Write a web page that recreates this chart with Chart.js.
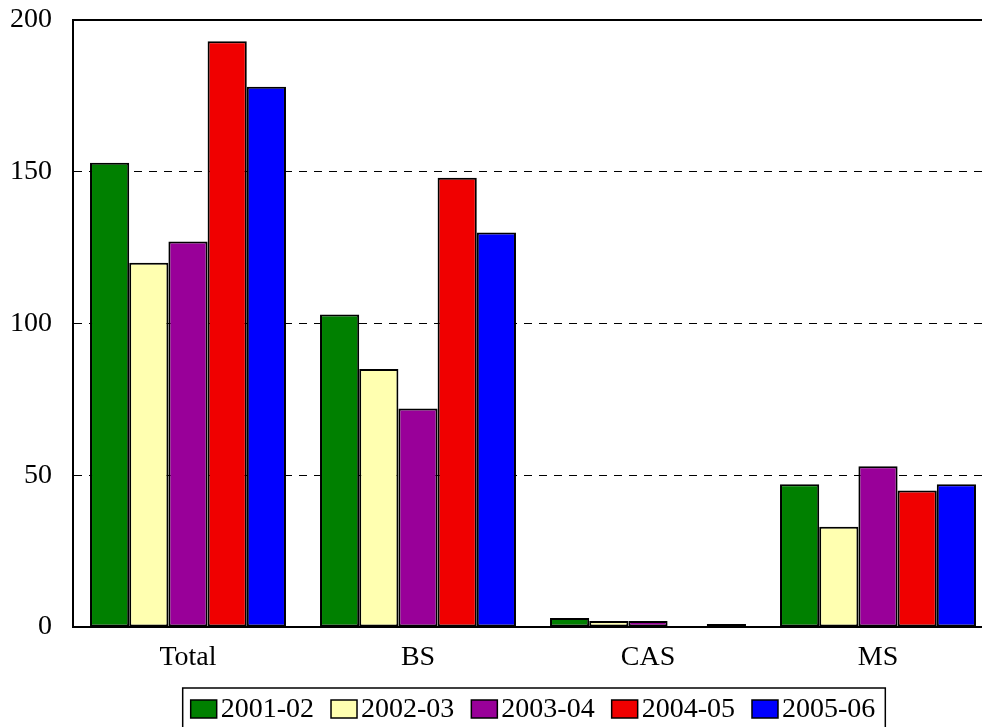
<!DOCTYPE html>
<html>
<head>
<meta charset="utf-8">
<script src="https://cdn.jsdelivr.net/npm/chart.js@4/dist/chart.umd.min.js"></script>
<style>
  html, body { margin: 0; padding: 0; background: #fff; overflow: hidden; }
  #wrap { width: 982px; height: 727px; overflow: hidden; position: relative; }
  canvas { display: block; }
</style>
</head>
<body>
<div id="wrap"><canvas id="c" width="1000" height="727"></canvas></div>
<script>
const categories = ['Total', 'BS', 'CAS', 'MS'];
const seriesNames = ['2001-02', '2002-03', '2003-04', '2004-05', '2005-06'];
const s2001 = [153, 103, 3, 47];
const s2002 = [120, 85, 2, 33];
const s2003 = [127, 72, 2, 53];
const s2004 = [193, 148, 0, 45];
const s2005 = [178, 130, 1, 47];
const seriesColors = ['#008000', '#FFFFB0', '#990099', '#F00000', '#0000FF'];
const yTicks = [0, 50, 100, 150, 200];

const seriesValues = [s2001, s2002, s2003, s2004, s2005];
const FONT_FAMILY = '"Liberation Serif", "Times New Roman", serif';
const FONT = { family: FONT_FAMILY, size: 28 };

// Custom boxed legend drawn below the x axis labels
const boxedLegend = {
  id: 'boxedLegend',
  afterDraw(chart) {
    const ctx = chart.ctx;
    const ds = chart.data.datasets;
    ctx.save();
    ctx.font = '28px ' + FONT_FAMILY;
    const sw = 26, sh = 18, gapText = 4, gapItem = 17;
    const widths = ds.map(d => sw + gapText + ctx.measureText(d.label).width);
    const total = widths.reduce((a, b) => a + b, 0) + gapItem * (ds.length - 1);
    const ca = chart.chartArea;
    let x = (ca.left + ca.right) / 2 - total / 2;
    const boxTop = 688;
    ctx.strokeStyle = '#000';
    ctx.lineWidth = 1.5;
    ctx.strokeRect(x - 8, boxTop, total + 18, chart.height - boxTop + 10);
    const swTop = 700;
    ds.forEach((d, i) => {
      ctx.fillStyle = d.backgroundColor;
      ctx.fillRect(x, swTop, sw, sh);
      ctx.lineWidth = 1.5;
      ctx.strokeStyle = '#000';
      ctx.strokeRect(x, swTop, sw, sh);
      ctx.fillStyle = '#000';
      ctx.textBaseline = 'middle';
      ctx.textAlign = 'left';
      ctx.fillText(d.label, x + sw + gapText, swTop + sh / 2 + 1);
      x += widths[i] + gapItem;
    });
    ctx.restore();
  }
};

new Chart(document.getElementById('c'), {
  type: 'bar',
  data: {
    labels: categories,
    datasets: seriesNames.map((n, i) => ({
      label: n,
      data: seriesValues[i],
      backgroundColor: seriesColors[i],
      borderColor: '#000',
      borderWidth: 2,
      borderSkipped: false,
      barPercentage: 1,
      categoryPercentage: 0.852
    }))
  },
  options: {
    responsive: false,
    animation: false,
    devicePixelRatio: 1,
    layout: { padding: { left: 10, right: 7, top: 20, bottom: 36 } },
    plugins: {
      legend: { display: false },
      tooltip: { enabled: false }
    },
    scales: {
      x: {
        grid: { display: false, drawTicks: false },
        border: { display: true, color: '#000', width: 2 },
        ticks: { font: FONT, color: '#000', padding: 14, maxRotation: 0 },
        afterFit(scale) { scale.height = 64; scale.paddingLeft = 0; scale.paddingRight = 0; }
      },
      y: {
        min: 0,
        max: 200,
        afterBuildTicks(scale) { scale.ticks = yTicks.map(v => ({ value: v })); },
        afterFit(scale) { scale.width = 63; scale.paddingTop = 0; scale.paddingBottom = 0; },
        grid: {
          color: '#000',
          lineWidth: (ctx) => (ctx.tick && ctx.tick.value === 200) ? 2 : 1,
          drawTicks: false
        },
        border: {
          display: true,
          color: '#000',
          width: 2,
          dash: (ctx) => (ctx.tick && (ctx.tick.value === 200 || ctx.tick.value === 0)) ? [] : [8, 7]
        },
        ticks: { font: FONT, color: '#000', padding: 21 }
      }
    }
  },
  plugins: [boxedLegend]
});
</script>
</body>
</html>
